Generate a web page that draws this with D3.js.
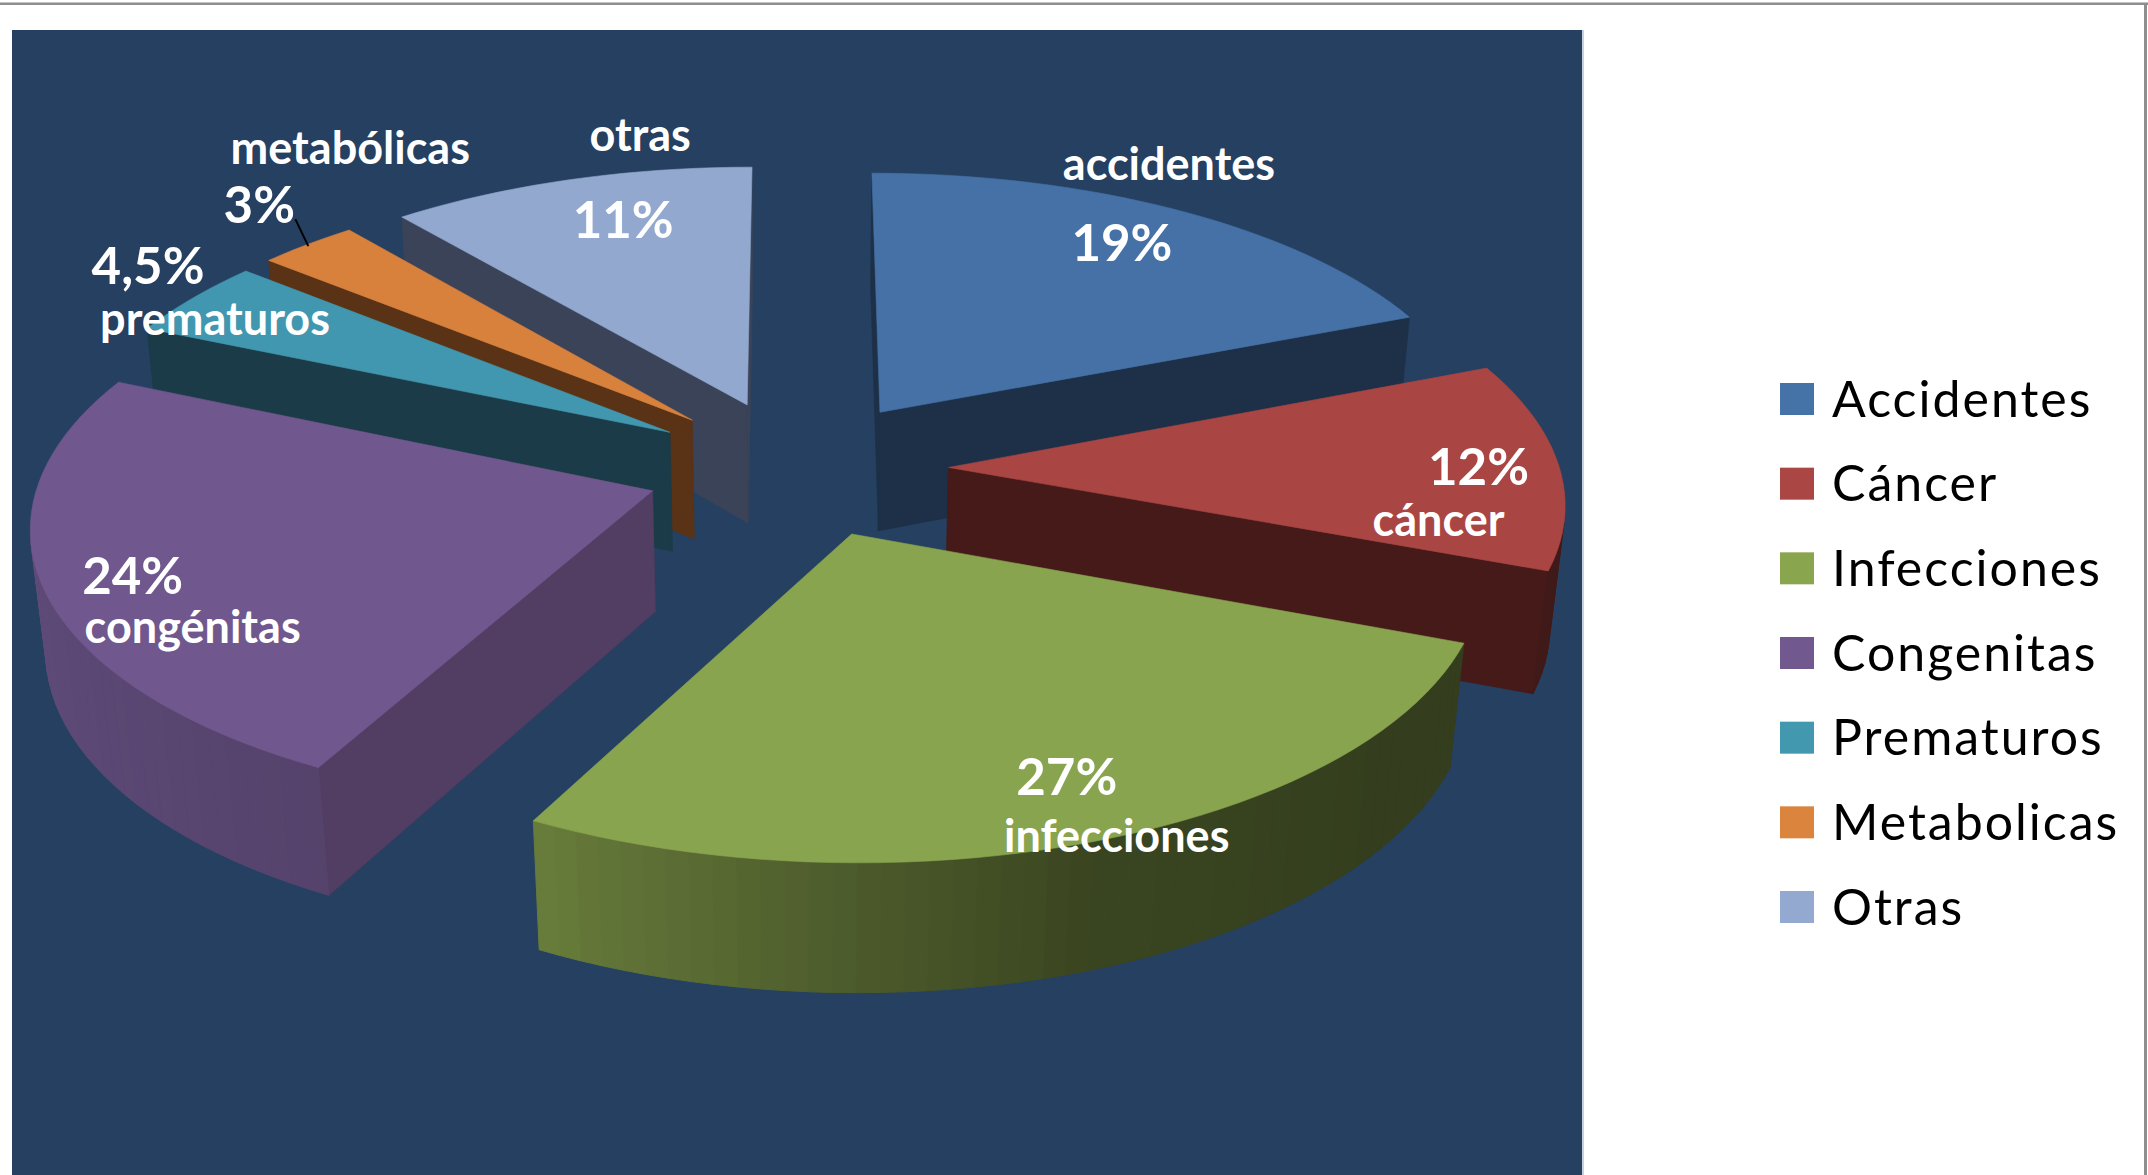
<!DOCTYPE html>
<html lang="es">
<head>
<meta charset="utf-8">
<title>Causas de mortalidad</title>
<script src="https://cdn.jsdelivr.net/npm/d3@7"></script>
<style>
  html, body { margin: 0; padding: 0; background: #fff; }
  svg { display: block; font-family: Lato, "Open Sans", sans-serif; }
</style>
</head>
<body>
<script>
// Chart data
const legendNames = ["Accidentes", "Cáncer", "Infecciones", "Congenitas", "Prematuros", "Metabolicas", "Otras"];
const sliceNames  = ["accidentes", "cáncer", "infecciones", "congénitas", "prematuros", "metabólicas", "otras"];
const values      = [19, 12, 27, 24, 4.5, 3, 11];
const percentText = ["19%", "12%", "27%", "24%", "4,5%", "3%", "11%"];

// Styling
const topColors    = ["#4571a6", "#a94543", "#89a44e", "#70588e", "#4197af", "#d8813c", "#92a8ce"];
const legendColors = ["#4572a7", "#aa4643", "#89a54e", "#71588f", "#4198af", "#db843d", "#93a9cf"];
const wallColors   = ["#1d3047", "#451a18", "#36421c", "#523d63", "#1a3b47", "#5a3215", "#3a4358"];
const background   = "#254061";

const width = 2148, height = 1175;

// Camera: a tilted disc with mild perspective, sliced and pulled apart radially
const view = { x0: 797, y0: 468, rx: 611, ry: 277, depth: 120, persp: 0.11, taper: 0.02, explode: 0.248 };

// Pixel offsets of each text from its slice's apex: [name, percentage]
const labelOffsets = [
  [[289, -248], [242, -169]],
  [[490, 53], [530, 0]],
  [[265, 302], [215, 243]],
  [[-460, 136], [-520, 85]],
  [[-455, -113], [-522, -166]],
  [[-342, -272], [-433, -215]],
  [[-107, -270], [-124, -185]]
];
const leaderOffsets = { index: 5, from: [-397, -201], to: [-384, -174] };

const svg = d3.select("body").append("svg")
  .attr("width", width).attr("height", height).attr("viewBox", `0 0 ${width} ${height}`);

// Page furniture and chart panel
svg.append("rect").attr("width", width).attr("height", height).attr("fill", "#fff");
svg.append("rect").attr("x", 0).attr("y", 2).attr("width", width).attr("height", 1).attr("fill", "#c2c2c2");
svg.append("rect").attr("x", 0).attr("y", 3).attr("width", width).attr("height", 2).attr("fill", "#8e8e8e");
svg.append("rect").attr("x", 2144).attr("y", 3).attr("width", 3).attr("height", height).attr("fill", "#8e8e8e");
svg.append("rect").attr("x", 12).attr("y", 30).attr("width", 1570).attr("height", height - 30).attr("fill", background);
svg.append("rect").attr("x", 1582).attr("y", 30).attr("width", 2).attr("height", height - 30).attr("fill", "#c6d1de");

// Plane coordinates (u right, v away from viewer) to screen; h = 1 is the underside
function project(u, v, h) {
  const near = 1 / (1 + view.persp * v);
  const w = 1 / (1 + view.persp * v + view.taper * h);
  return [view.x0 + view.rx * u * w, view.y0 - view.ry * v * w + view.depth * h * near];
}

const arcs = d3.pie().sort(null).value(d => d).startAngle(0).endAngle(2 * Math.PI)(values);

// Rim shading as a function of the clock angle, in degrees
const rimShade = d3.scaleLinear()
  .domain([0, 130, 160, 180, 208, 270, 360])
  .range([0.38, 0.38, 0.42, 0.55, 0.76, 0.87, 0.87]);

const pieLayer = svg.append("g");
const pathOf = d3.line();

const slices = arcs.map((a, i) => {
  const mid = (a.startAngle + a.endAngle) / 2;
  const cu = view.explode * Math.sin(mid), cv = view.explode * Math.cos(mid);
  const rim = t => [cu + Math.sin(t), cv + Math.cos(t)];
  return { i, a, cu, cv, rim };
}).sort((p, q) => d3.descending(p.cv, q.cv));

slices.forEach(s => {
  const { i, a, cu, cv, rim } = s;
  const g = pieLayer.append("g");
  const steps = Math.max(4, Math.ceil((a.endAngle - a.startAngle) * 180 / Math.PI / 2));
  const angles = d3.range(steps + 1).map(k => a.startAngle + (a.endAngle - a.startAngle) * k / steps);

  const top = t => { const [u, v] = rim(t); return project(u, v, 0); };
  const bot = t => { const [u, v] = rim(t); return project(u, v, 1); };
  const apexTop = project(cu, cv, 0), apexBot = project(cu, cv, 1);
  s.apex = apexTop;

  // Flat cut walls; only the ones turned towards the viewer are kept
  [[apexTop, top(a.startAngle), bot(a.startAngle), apexBot],
   [top(a.endAngle), apexTop, apexBot, bot(a.endAngle)]]
    .filter(poly => d3.polygonArea(poly) > 0)
    .forEach(poly => {
      g.append("path").attr("d", pathOf(poly) + "Z")
        .attr("fill", wallColors[i]).attr("stroke", wallColors[i]).attr("stroke-width", 0.6);
    });

  // Curved rim, built from narrow strips
  d3.pairs(angles).forEach(([t1, t2]) => {
    const strip = [top(t1), top(t2), bot(t2), bot(t1)];
    if (d3.polygonArea(strip) <= 0) return;
    const base = d3.rgb(topColors[i]);
    const k = rimShade(((t1 + t2) / 2) * 180 / Math.PI);
    const fill = d3.rgb(base.r * k, base.g * k, base.b * k).formatHex();
    g.append("path").attr("d", pathOf(strip) + "Z")
      .attr("fill", fill).attr("stroke", fill).attr("stroke-width", 1);
  });

  // Upper face
  g.append("path")
    .attr("d", pathOf([apexTop, ...angles.map(top)]) + "Z")
    .attr("fill", topColors[i]).attr("stroke", topColors[i]).attr("stroke-width", 0.6);
});

const apexByIndex = new Map(slices.map(s => [s.i, s.apex]));

// Slice labels
const labelLayer = svg.append("g").attr("fill", "#fff").attr("font-weight", 700).attr("text-anchor", "middle");
values.forEach((_, i) => {
  const [ax, ay] = apexByIndex.get(i);
  const [nameOff, pctOff] = labelOffsets[i];
  labelLayer.append("text")
    .attr("x", ax + nameOff[0]).attr("y", ay + nameOff[1]).attr("dy", "0.35em")
    .attr("font-size", 45).text(sliceNames[i]);
  labelLayer.append("text")
    .attr("x", ax + pctOff[0]).attr("y", ay + pctOff[1]).attr("dy", "0.35em")
    .attr("font-size", 51).text(percentText[i]);
});

// Leader from the percentage to the small orange slice
{
  const [ax, ay] = apexByIndex.get(leaderOffsets.index);
  svg.append("line")
    .attr("x1", ax + leaderOffsets.from[0]).attr("y1", ay + leaderOffsets.from[1])
    .attr("x2", ax + leaderOffsets.to[0]).attr("y2", ay + leaderOffsets.to[1])
    .attr("stroke", "#000").attr("stroke-width", 2);
}

// Legend
const legendY = d3.scalePoint().domain(legendNames).range([399, 907]);
const legend = svg.append("g").selectAll("g").data(legendNames).join("g")
  .attr("transform", d => `translate(1780,${legendY(d)})`);
legend.append("rect").attr("x", 0).attr("y", -16).attr("width", 34).attr("height", 32)
  .attr("fill", (d, i) => legendColors[i]);
legend.append("text").attr("x", 52).attr("y", 0).attr("dy", "0.35em")
  .attr("font-size", 50).attr("letter-spacing", 2).attr("fill", "#000").text(d => d);
</script>
</body>
</html>
